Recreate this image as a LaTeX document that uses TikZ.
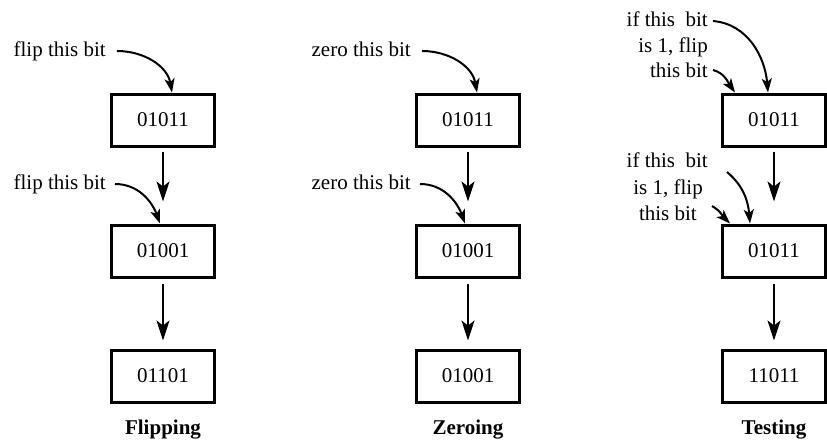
\documentclass[tikz,border=0pt]{standalone}
\usepackage{fontspec}
\setmainfont{Liberation Serif}
\usetikzlibrary{arrows.meta}
\begin{document}
\begin{tikzpicture}[x=1pt,y=-1pt,
  bitbox/.style={draw,line width=3pt,minimum width=103pt,minimum height=52pt,inner sep=0pt,font=\fontsize{21}{25}\selectfont},
  lbl/.style={inner sep=0pt,text height=15pt,text depth=4pt,font=\fontsize{21}{25}\selectfont},
  ttl/.style={inner sep=0pt,font=\fontsize{21}{25}\selectfont\bfseries},
  vflow/.style={line width=2pt,-{Stealth[length=20pt,width=13pt,inset=5pt]}},
  cflow/.style={line width=2pt,-{Stealth[length=14pt,width=10pt,inset=3.5pt]}}]
\useasboundingbox (0,0) rectangle (827,442);
% Flipping
\node[bitbox] (f1) at (163,120) {01011};
\node[bitbox] (f2) at (163,251) {01001};
\node[bitbox] (f3) at (163,376) {01101};
\node[ttl] (ft) at (163,430) {Flipping};
\node[lbl,anchor=east] (fl1) at (106,51) {flip this bit};
\node[lbl,anchor=east] (fl2) at (106,184) {flip this bit};
\draw[vflow] ([yshift=-4pt]f1.south) -- ([yshift=22pt]f2.north);
\draw[vflow] ([yshift=-5pt]f2.south) -- ([yshift=8pt]f3.north);
\draw[cflow] ([xshift=11pt]fl1.east) to[out=0,in=100] ([xshift=9pt]f1.north);
\draw[cflow] ([xshift=9pt]fl2.east) to[out=0,in=110] ([xshift=-3pt]f2.north);
% Zeroing
\node[bitbox] (z1) at (468,120) {01011};
\node[bitbox] (z2) at (468,251) {01001};
\node[bitbox] (z3) at (468,376) {01001};
\node[ttl] (zt) at (468,430) {Zeroing};
\node[lbl,anchor=east] (zl1) at (411,51) {zero this bit};
\node[lbl,anchor=east] (zl2) at (411,184) {zero this bit};
\draw[vflow] ([yshift=-4pt]z1.south) -- ([yshift=22pt]z2.north);
\draw[vflow] ([yshift=-5pt]z2.south) -- ([yshift=8pt]z3.north);
\draw[cflow] ([xshift=11pt]zl1.east) to[out=0,in=100] ([xshift=9pt]z1.north);
\draw[cflow] ([xshift=9pt]zl2.east) to[out=0,in=110] ([xshift=-3pt]z2.north);
% Testing
\node[bitbox] (t1) at (774,120) {01011};
\node[bitbox] (t2) at (774,251) {01011};
\node[bitbox] (t3) at (774,376) {11011};
\node[ttl] (tt) at (774,430) {Testing};
\node[lbl,anchor=east] (ta1) at (708,21) {if this\ \ bit};
\node[lbl,anchor=east] (ta2) at (708,47) {is 1, flip};
\node[lbl,anchor=east] (ta3) at (708,72) {this bit};
\node[lbl,anchor=east] (tb1) at (708,162) {if this\ \ bit};
\node[lbl,anchor=east] (tb2) at (703,189) {is 1, flip};
\node[lbl,anchor=east] (tb3) at (697,215) {this bit};
\draw[vflow] ([yshift=-4pt]t1.south) -- ([yshift=22pt]t2.north);
\draw[vflow] ([yshift=-5pt]t2.south) -- ([yshift=8pt]t3.north);
\draw[cflow] ([xshift=5pt]ta1.east) to[out=-5,in=95] ([xshift=-6pt]t1.north);
\draw[cflow] ([xshift=5pt,yshift=2pt]ta3.east) to[out=-15,in=125] ([xshift=-39pt]t1.north);
\draw[cflow] ([xshift=19pt,yshift=-10pt]tb1.east) to[out=-40,in=95] ([xshift=-24pt]t2.north);
\draw[cflow] ([xshift=15pt,yshift=9pt]tb3.east) to[out=-30,in=135] ([xshift=-44pt]t2.north);
\end{tikzpicture}
\end{document}
